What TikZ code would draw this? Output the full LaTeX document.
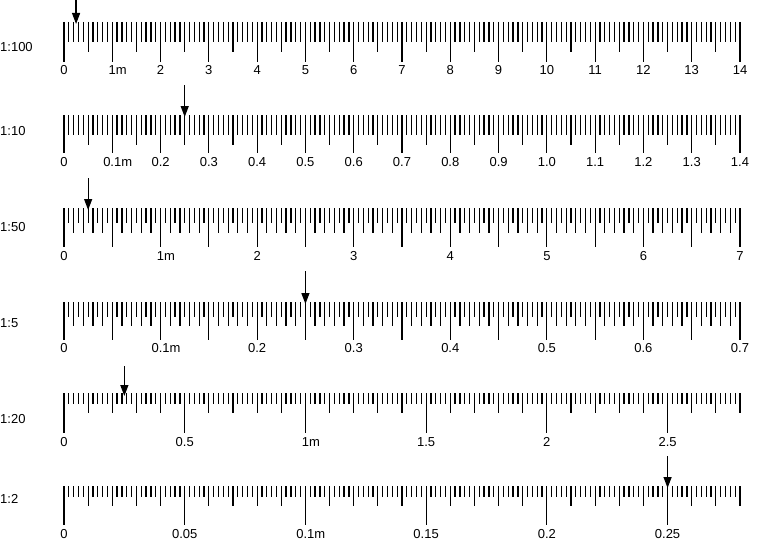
\documentclass[tikz,border=0pt]{standalone}
\usepackage{fontspec}
\setmainfont{Liberation Sans}
\usetikzlibrary{arrows.meta}

\tikzset{
  rulertick/.style={line width=1.25pt},
  ticklabel/.style={inner sep=0pt, font=\fontsize{13}{15}\selectfont},
  scalelabel/.style={anchor=west, inner sep=0pt, font=\fontsize{13}{15}\selectfont},
  pointer/.style={line width=1.25pt, -{Triangle[length=11pt,width=8pt]}}
}

\begin{document}
\begin{tikzpicture}[x=1pt, y=-1pt]

    % page size (pixels of the reference)
    \useasboundingbox (0,0) rectangle (773,551);

    % 1:100 ruler, 0 to 14 m
    \node[scalelabel] (s100) at (0,47) {1:100};
    \foreach \i in {0,...,140} {
        \pgfmathsetmacro\len{mod(\i,10)==0 ? 40 : (mod(\i,5)==0 ? 30 : 20)}
        \draw[rulertick] (64+\i*4.82857,22) -- ++(0,\len);
    }
    \foreach \v [count=\k from 0] in {0,1\rlap{m},2,3,4,5,6,7,8,9,10,11,12,13,14}
        \node[ticklabel] (r100-\k) at (64+\k*48.2857,70) {\v};
    \coordinate (p100-from) at (76.07,0);
    \coordinate (p100-to) at (76.07,24);
    \draw[pointer] (p100-from) -- (p100-to);

    % 1:10 ruler, 0 to 1.4 m
    \node[scalelabel] (s10) at (0,131) {1:10};
    \foreach \i in {0,...,140} {
        \pgfmathsetmacro\len{mod(\i,10)==0 ? 38 : (mod(\i,5)==0 ? 30 : 20)}
        \draw[rulertick] (64+\i*4.82857,115) -- ++(0,\len);
    }
    \foreach \v [count=\k from 0] in {0,0.1\rlap{m},0.2,0.3,0.4,0.5,0.6,0.7,0.8,0.9,1.0,1.1,1.2,1.3,1.4}
        \node[ticklabel] (r10-\k) at (64+\k*48.2857,162) {\v};
    \coordinate (p10-from) at (184.71,85);
    \coordinate (p10-to) at (184.71,117);
    \draw[pointer] (p10-from) -- (p10-to);

    % 1:50 ruler, 0 to 7 m
    \node[scalelabel] (s50) at (0,227) {1:50};
    \foreach \i in {0,...,140} {
        \pgfmathsetmacro\len{mod(\i,10)==0 ? 39 : (mod(\i,2)==0 ? 25 : 15)}
        \draw[rulertick] (64+\i*4.82857,208) -- ++(0,\len);
    }
    \foreach \v [count=\k from 0] in {0,1\rlap{m},2,3,4,5,6,7}
        \node[ticklabel] (r50-\k) at (64+\k*96.5714,256) {\v};
    \coordinate (p50-from) at (88.14,178);
    \coordinate (p50-to) at (88.14,210);
    \draw[pointer] (p50-from) -- (p50-to);

    % 1:5 ruler, 0 to 0.7 m
    \node[scalelabel] (s5) at (0,323) {1:5};
    \foreach \i in {0,...,140} {
        \pgfmathsetmacro\len{mod(\i,10)==0 ? 38 : (mod(\i,2)==0 ? 24 : 15)}
        \draw[rulertick] (64+\i*4.82857,302) -- ++(0,\len);
    }
    \foreach \v [count=\k from 0] in {0,0.1\rlap{m},0.2,0.3,0.4,0.5,0.6,0.7}
        \node[ticklabel] (r5-\k) at (64+\k*96.5714,348) {\v};
    \coordinate (p5-from) at (305.43,271);
    \coordinate (p5-to) at (305.43,304);
    \draw[pointer] (p5-from) -- (p5-to);

    % 1:20 ruler, 0 to 2.8 m
    \node[scalelabel] (s20) at (0,419) {1:20};
    \foreach \i in {0,...,140} {
        \pgfmathsetmacro\len{mod(\i,25)==0 ? 40 : (mod(\i,5)==0 ? 20 : 11)}
        \draw[rulertick] (64+\i*4.82857,393) -- ++(0,\len);
    }
    \foreach \v [count=\k from 0] in {0,0.5,1\rlap{m},1.5,2,2.5}
        \node[ticklabel] (r20-\k) at (64+\k*120.714,442) {\v};
    \coordinate (p20-from) at (124.36,366);
    \coordinate (p20-to) at (124.36,396);
    \draw[pointer] (p20-from) -- (p20-to);

    % 1:2 ruler, 0 to 0.28 m
    \node[scalelabel] (s2) at (0,499) {1:2};
    \foreach \i in {0,...,140} {
        \pgfmathsetmacro\len{mod(\i,25)==0 ? 39 : (mod(\i,5)==0 ? 20 : 11)}
        \draw[rulertick] (64+\i*4.82857,486) -- ++(0,\len);
    }
    \foreach \v [count=\k from 0] in {0,0.05,0.1\rlap{m},0.15,0.2,0.25}
        \node[ticklabel] (r2-\k) at (64+\k*120.714,534) {\v};
    \coordinate (p2-from) at (667.57,456);
    \coordinate (p2-to) at (667.57,488);
    \draw[pointer] (p2-from) -- (p2-to);

\end{tikzpicture}
\end{document}
